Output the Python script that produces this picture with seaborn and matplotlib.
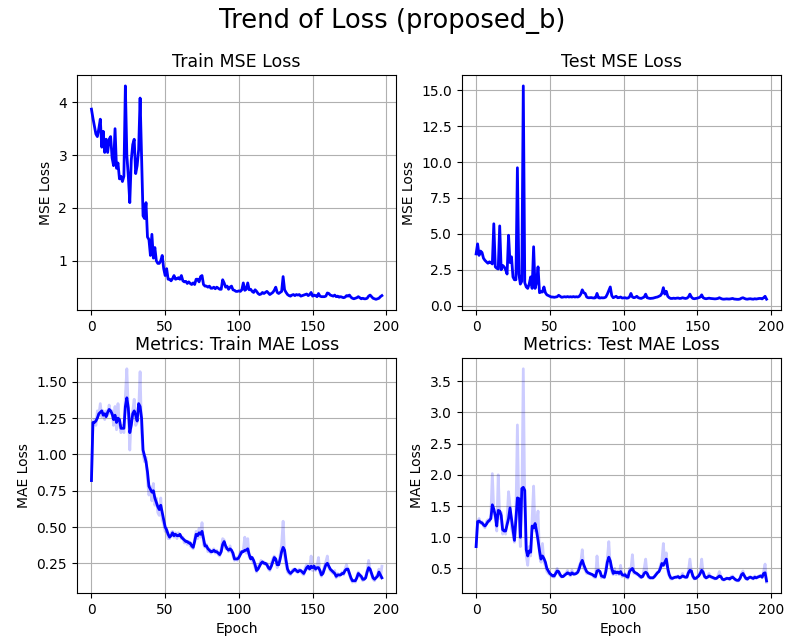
import matplotlib
matplotlib.use("Agg")
import matplotlib.pyplot as plt
import seaborn as sns

# ---------------- data ----------------
train_mse = [
    3.87, 3.70, 3.55, 3.40, 3.35, 3.50, 3.68, 3.15, 3.45, 3.05,
    3.30, 3.05, 3.30, 3.35, 2.95, 2.80, 3.50, 2.75, 2.85, 2.55,
    2.60, 2.50, 2.60, 4.31, 3.00, 2.60, 2.10, 2.90, 3.20, 3.30,
    2.65, 2.80, 3.10, 4.08, 3.00, 1.85, 1.80, 2.10, 1.45, 1.40,
    1.10, 1.50, 1.05, 1.25, 1.00, 0.95, 0.95, 1.00, 1.10, 0.85,
    0.72, 0.85, 0.65, 0.65, 0.62, 0.66, 0.72, 0.65, 0.66, 0.68,
    0.65, 0.72, 0.62, 0.60, 0.61, 0.57, 0.60, 0.57, 0.55, 0.58,
    0.55, 0.65, 0.65, 0.60, 0.70, 0.72, 0.55, 0.52, 0.52, 0.50,
    0.52, 0.48, 0.48, 0.50, 0.47, 0.50, 0.48, 0.46, 0.46, 0.64,
    0.58, 0.50, 0.52, 0.46, 0.50, 0.52, 0.45, 0.44, 0.42, 0.42,
    0.43, 0.42, 0.45, 0.58, 0.44, 0.46, 0.58, 0.45, 0.46, 0.42,
    0.40, 0.45, 0.42, 0.38, 0.36, 0.37, 0.40, 0.38, 0.40, 0.42,
    0.39, 0.36, 0.38, 0.40, 0.44, 0.50, 0.40, 0.38, 0.40, 0.42,
    0.70, 0.45, 0.40, 0.36, 0.34, 0.33, 0.35, 0.36, 0.34, 0.36,
    0.35, 0.36, 0.33, 0.34, 0.35, 0.36, 0.37, 0.34, 0.36, 0.40,
    0.33, 0.35, 0.34, 0.32, 0.38, 0.33, 0.32, 0.32, 0.32, 0.33,
    0.39, 0.38, 0.35, 0.34, 0.33, 0.35, 0.32, 0.33, 0.31, 0.32,
    0.31, 0.30, 0.31, 0.34, 0.33, 0.35, 0.31, 0.29, 0.28, 0.29,
    0.30, 0.32, 0.30, 0.28, 0.29, 0.28, 0.28, 0.29, 0.33, 0.35,
    0.32, 0.29, 0.28, 0.27, 0.28, 0.29, 0.32, 0.34,
]

test_mse = [
    3.60, 4.30, 3.50, 3.80, 3.70, 3.30, 3.15, 3.05, 2.95, 3.05,
    3.00, 2.90, 5.70, 2.70, 2.60, 2.55, 5.55, 2.50, 2.80, 2.70,
    2.50, 2.20, 4.90, 3.00, 3.40, 2.00, 1.80, 1.80, 9.60, 2.20,
    1.50, 1.70, 15.30, 1.60, 1.30, 1.20, 1.50, 2.00, 1.20, 4.10,
    1.20, 1.60, 2.70, 0.90, 0.95, 0.95, 1.30, 0.90, 0.75, 0.70,
    0.65, 0.60, 0.60, 0.58, 0.60, 0.62, 0.72, 0.65, 0.58, 0.60,
    0.62, 0.60, 0.63, 0.60, 0.62, 0.60, 0.63, 0.60, 0.62, 0.60,
    0.65, 0.80, 1.10, 0.90, 0.85, 0.60, 0.55, 0.55, 0.56, 0.54,
    0.53, 0.55, 0.85, 0.55, 0.53, 0.55, 0.54, 0.55, 0.60, 0.80,
    1.05, 1.30, 0.70, 0.55, 0.60, 0.65, 0.55, 0.56, 0.60, 0.53,
    0.54, 0.55, 0.52, 0.53, 0.60, 0.85, 0.60, 0.55, 0.58, 0.65,
    0.55, 0.52, 0.50, 0.55, 0.60, 0.80, 0.55, 0.52, 0.50, 0.51,
    0.52, 0.55, 0.58, 0.60, 0.65, 0.70, 0.85, 1.25, 0.80, 1.00,
    0.65, 0.55, 0.50, 0.50, 0.52, 0.50, 0.52, 0.53, 0.50, 0.51,
    0.55, 0.52, 0.50, 0.52, 0.60, 0.80, 0.60, 0.50, 0.48, 0.50,
    0.52, 0.55, 0.60, 0.75, 0.55, 0.50, 0.48, 0.50, 0.52, 0.50,
    0.49, 0.48, 0.47, 0.48, 0.50, 0.55, 0.50, 0.46, 0.45, 0.46,
    0.47, 0.46, 0.46, 0.48, 0.50, 0.46, 0.45, 0.44, 0.44, 0.46,
    0.52, 0.55, 0.50, 0.46, 0.45, 0.47, 0.48, 0.46, 0.45, 0.48,
    0.46, 0.48, 0.50, 0.50, 0.47, 0.55, 0.65, 0.45,
]

train_mae_raw = [
    0.82, 1.22, 1.24, 1.20, 1.30, 1.27, 1.35, 1.26, 1.30, 1.24,
    1.30, 1.27, 1.34, 1.28, 1.30, 1.20, 1.33, 1.17, 1.35, 1.20,
    1.15, 1.20, 1.15, 1.40, 1.59, 1.30, 1.03, 1.25, 1.30, 1.38,
    1.20, 1.22, 1.30, 1.57, 1.15, 1.00, 0.95, 0.98, 0.82, 0.72,
    0.78, 0.68, 0.80, 0.65, 0.70, 0.60, 0.58, 0.70, 0.55, 0.52,
    0.47, 0.49, 0.42, 0.42, 0.46, 0.47, 0.43, 0.46, 0.42, 0.46,
    0.44, 0.42, 0.43, 0.39, 0.41, 0.38, 0.40, 0.37, 0.36, 0.35,
    0.42, 0.47, 0.42, 0.49, 0.43, 0.53, 0.38, 0.36, 0.38, 0.33,
    0.35, 0.32, 0.34, 0.35, 0.32, 0.34, 0.31, 0.30, 0.35, 0.42,
    0.41, 0.35, 0.36, 0.33, 0.37, 0.33, 0.30, 0.27, 0.29, 0.27,
    0.30, 0.33, 0.32, 0.34, 0.43, 0.32, 0.42, 0.29, 0.30, 0.27,
    0.25, 0.22, 0.19, 0.23, 0.24, 0.27, 0.25, 0.26, 0.24, 0.25,
    0.21, 0.20, 0.25, 0.28, 0.30, 0.27, 0.22, 0.25, 0.31, 0.38,
    0.54, 0.30, 0.24, 0.19, 0.18, 0.17, 0.20, 0.21, 0.20, 0.19,
    0.20, 0.21, 0.19, 0.18, 0.17, 0.22, 0.24, 0.21, 0.22, 0.30,
    0.20, 0.24, 0.20, 0.23, 0.29, 0.18, 0.16, 0.19, 0.23, 0.26,
    0.30, 0.22, 0.20, 0.19, 0.18, 0.20, 0.15, 0.18, 0.16, 0.17,
    0.19, 0.17, 0.21, 0.24, 0.20, 0.17, 0.14, 0.12, 0.13, 0.12,
    0.16, 0.19, 0.16, 0.15, 0.13, 0.14, 0.16, 0.20, 0.27, 0.20,
    0.17, 0.14, 0.13, 0.16, 0.17, 0.21, 0.15, 0.23,
]

train_mae_smooth = [
    0.82, 1.22, 1.22, 1.23, 1.25, 1.28, 1.29, 1.30, 1.27, 1.28,
    1.26, 1.29, 1.31, 1.30, 1.28, 1.24, 1.27, 1.22, 1.25, 1.24,
    1.18, 1.18, 1.18, 1.33, 1.39, 1.32, 1.15, 1.20, 1.28, 1.30,
    1.27, 1.23, 1.35, 1.33, 1.25, 1.03, 0.99, 0.95, 0.88, 0.78,
    0.76, 0.74, 0.75, 0.70, 0.67, 0.64, 0.62, 0.65, 0.60, 0.55,
    0.50, 0.48, 0.45, 0.43, 0.44, 0.46, 0.44, 0.45, 0.44, 0.44,
    0.45, 0.43, 0.42, 0.41, 0.40, 0.40, 0.39, 0.39, 0.37, 0.36,
    0.40, 0.45, 0.44, 0.46, 0.45, 0.47, 0.42, 0.37, 0.37, 0.35,
    0.34, 0.33, 0.33, 0.34, 0.33, 0.33, 0.32, 0.31, 0.33, 0.38,
    0.40, 0.37, 0.35, 0.34, 0.35, 0.34, 0.32, 0.28, 0.28, 0.28,
    0.29, 0.31, 0.33, 0.33, 0.34, 0.34, 0.35, 0.31, 0.28, 0.29,
    0.27, 0.24, 0.20, 0.21, 0.23, 0.25, 0.26, 0.25, 0.25, 0.24,
    0.22, 0.21, 0.23, 0.26, 0.29, 0.28, 0.24, 0.24, 0.28, 0.33,
    0.36, 0.34, 0.27, 0.21, 0.19, 0.18, 0.19, 0.20, 0.21, 0.20,
    0.19, 0.20, 0.20, 0.19, 0.18, 0.20, 0.22, 0.23, 0.21, 0.23,
    0.22, 0.23, 0.21, 0.22, 0.22, 0.20, 0.17, 0.18, 0.21, 0.24,
    0.25, 0.23, 0.21, 0.20, 0.19, 0.18, 0.16, 0.17, 0.17, 0.17,
    0.18, 0.18, 0.20, 0.21, 0.21, 0.18, 0.15, 0.13, 0.13, 0.13,
    0.15, 0.18, 0.17, 0.16, 0.14, 0.14, 0.15, 0.19, 0.22, 0.21,
    0.18, 0.15, 0.14, 0.15, 0.16, 0.19, 0.17, 0.15,
]

test_mae_raw = [
    0.85, 1.25, 1.30, 1.22, 1.25, 1.18, 1.15, 1.25, 1.28, 1.25,
    1.35, 2.02, 1.40, 1.30, 1.10, 2.00, 1.30, 1.40, 1.05, 1.12,
    1.05, 1.30, 1.73, 1.50, 1.15, 1.05, 0.92, 1.35, 2.80, 1.40,
    0.85, 1.50, 3.70, 1.50, 0.70, 0.55, 0.85, 0.70, 1.30, 1.82,
    1.10, 1.20, 1.42, 0.70, 0.60, 0.90, 0.60, 0.55, 0.45, 0.42,
    0.40, 0.38, 0.37, 0.36, 0.45, 0.50, 0.42, 0.38, 0.36, 0.37,
    0.41, 0.42, 0.47, 0.40, 0.38, 0.47, 0.40, 0.42, 0.43, 0.46,
    0.55, 0.60, 0.80, 0.50, 0.47, 0.42, 0.42, 0.41, 0.40, 0.39,
    0.36, 0.35, 0.70, 0.44, 0.45, 0.35, 0.36, 0.35, 0.50, 0.65,
    0.93, 0.55, 0.45, 0.40, 0.50, 0.40, 0.46, 0.40, 0.55, 0.37,
    0.38, 0.42, 0.35, 0.34, 0.50, 0.48, 0.72, 0.42, 0.44, 0.40,
    0.40, 0.36, 0.35, 0.38, 0.50, 0.65, 0.40, 0.35, 0.34, 0.35,
    0.34, 0.38, 0.41, 0.44, 0.45, 0.55, 0.62, 0.90, 0.55, 0.75,
    0.45, 0.38, 0.33, 0.33, 0.36, 0.35, 0.37, 0.38, 0.34, 0.36,
    0.42, 0.36, 0.35, 0.37, 0.45, 0.65, 0.45, 0.36, 0.33, 0.34,
    0.37, 0.39, 0.45, 0.65, 0.42, 0.36, 0.34, 0.37, 0.42, 0.36,
    0.35, 0.34, 0.33, 0.34, 0.38, 0.45, 0.37, 0.32, 0.31, 0.33,
    0.35, 0.33, 0.33, 0.37, 0.38, 0.33, 0.31, 0.30, 0.30, 0.35,
    0.42, 0.46, 0.37, 0.33, 0.32, 0.36, 0.37, 0.34, 0.33, 0.38,
    0.34, 0.37, 0.38, 0.39, 0.35, 0.45, 0.57, 0.28,
]

test_mae_smooth = [
    0.85, 1.25, 1.26, 1.24, 1.23, 1.20, 1.18, 1.21, 1.25, 1.27,
    1.30, 1.52, 1.45, 1.35, 1.18, 1.43, 1.42, 1.35, 1.12, 1.10,
    1.10, 1.20, 1.30, 1.47, 1.30, 1.12, 0.95, 1.30, 1.63, 1.62,
    1.00, 1.78, 1.80, 1.75, 0.80, 0.70, 0.78, 0.76, 1.18, 1.15,
    1.22, 1.10, 0.95, 0.78, 0.65, 0.70, 0.66, 0.60, 0.50, 0.46,
    0.42, 0.40, 0.38, 0.38, 0.42, 0.46, 0.45, 0.40, 0.37, 0.37,
    0.39, 0.41, 0.43, 0.42, 0.40, 0.43, 0.41, 0.41, 0.42, 0.44,
    0.50, 0.58, 0.63, 0.56, 0.50, 0.45, 0.43, 0.42, 0.41, 0.40,
    0.38, 0.37, 0.46, 0.47, 0.45, 0.38, 0.37, 0.36, 0.45, 0.60,
    0.68, 0.62, 0.50, 0.42, 0.45, 0.43, 0.44, 0.42, 0.45, 0.40,
    0.39, 0.40, 0.37, 0.36, 0.45, 0.48, 0.50, 0.45, 0.43, 0.42,
    0.40, 0.38, 0.36, 0.37, 0.42, 0.44, 0.42, 0.37, 0.35, 0.35,
    0.35, 0.37, 0.40, 0.43, 0.45, 0.50, 0.58, 0.55, 0.60, 0.65,
    0.50, 0.40, 0.35, 0.34, 0.35, 0.36, 0.36, 0.37, 0.35, 0.36,
    0.38, 0.37, 0.36, 0.36, 0.43, 0.47, 0.46, 0.38, 0.34, 0.34,
    0.36, 0.38, 0.42, 0.47, 0.44, 0.37, 0.35, 0.36, 0.38, 0.37,
    0.36, 0.35, 0.34, 0.34, 0.36, 0.38, 0.37, 0.33, 0.32, 0.33,
    0.34, 0.34, 0.33, 0.35, 0.36, 0.34, 0.32, 0.31, 0.31, 0.34,
    0.40, 0.42, 0.38, 0.34, 0.33, 0.35, 0.36, 0.35, 0.34, 0.36,
    0.35, 0.36, 0.37, 0.38, 0.36, 0.42, 0.43, 0.30,
]

suptitle = "Trend of Loss (proposed_b)"
titles = ["Train MSE Loss", "Test MSE Loss", "Metrics: Train MAE Loss", "Metrics: Test MAE Loss"]
ylabels = ["MSE Loss", "MSE Loss", "MAE Loss", "MAE Loss"]
xlabel = "Epoch"

# ---------------- figure ----------------
plt.rcParams["font.family"] = ["DejaVu Sans"]
fig, axes = plt.subplots(2, 2, figsize=(7.85, 6.43), dpi=100)
fig.subplots_adjust(left=0.098, right=0.995, bottom=0.078, top=0.883,
                    wspace=0.204, hspace=0.205)

def ep(vals):
    return list(range(len(vals)))

ax = axes[0, 0]
sns.lineplot(x=ep(train_mse), y=train_mse, ax=ax, color="b", linewidth=2)
ax = axes[0, 1]
sns.lineplot(x=ep(test_mse), y=test_mse, ax=ax, color="b", linewidth=2)
ax = axes[1, 0]
sns.lineplot(x=ep(train_mae_raw), y=train_mae_raw, ax=ax, color="b", linewidth=2, alpha=0.2)
sns.lineplot(x=ep(train_mae_smooth), y=train_mae_smooth, ax=ax, color="b", linewidth=2)
ax = axes[1, 1]
sns.lineplot(x=ep(test_mae_raw), y=test_mae_raw, ax=ax, color="b", linewidth=2, alpha=0.2)
sns.lineplot(x=ep(test_mae_smooth), y=test_mae_smooth, ax=ax, color="b", linewidth=2)

for i, ax in enumerate(axes.flat):
    ax.set_title(titles[i], fontsize=12.5)
    ax.set_ylabel(ylabels[i], fontsize=10)
    ax.grid(True, color="#b0b0b0", linewidth=0.8)
    ax.set_axisbelow(True)
    ax.set_xticks([0, 50, 100, 150, 200])
    if i >= 2:
        ax.set_xlabel(xlabel, fontsize=10)
    else:
        ax.set_xlabel("")

axes[0, 0].set_yticks([1, 2, 3, 4])
axes[0, 1].set_yticks([0.0, 2.5, 5.0, 7.5, 10.0, 12.5, 15.0])
axes[1, 0].set_yticks([0.25, 0.50, 0.75, 1.00, 1.25, 1.50])
axes[1, 1].set_yticks([0.5, 1.0, 1.5, 2.0, 2.5, 3.0, 3.5])

fig.suptitle(suptitle, fontsize=18.5, x=0.5, y=0.968, va="center")
fig.savefig("out.png", dpi=100)
